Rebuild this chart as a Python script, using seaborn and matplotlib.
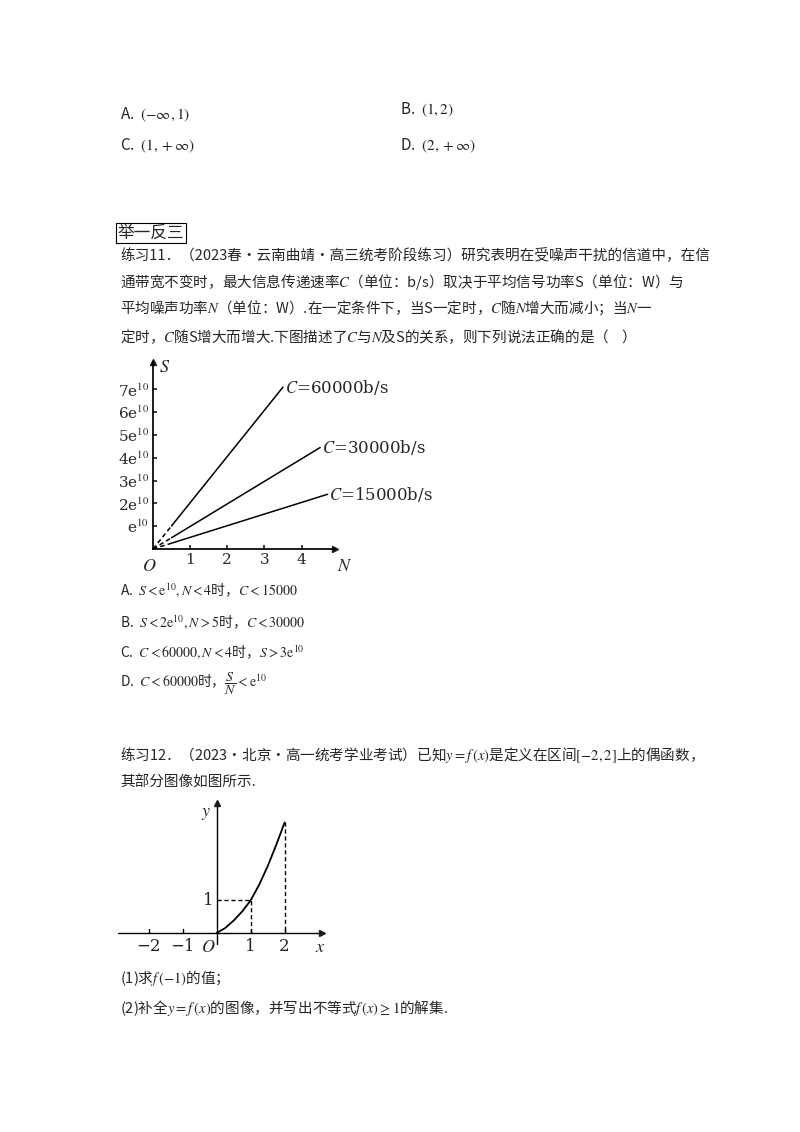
import matplotlib
matplotlib.use("Agg")
import matplotlib.pyplot as plt
import numpy as np
import pandas as pd
import seaborn as sns

sns.set_theme(style="white")
plt.rcParams["font.family"] = ["Noto Sans CJK SC", "DejaVu Sans"]
plt.rcParams["mathtext.fontset"] = "stix"

W, H = 800, 1132

# ---- data: graph 1 (S vs N for three capacities) ----
capacities = ["C=60000b/s", "C=30000b/s", "C=15000b/s"]
n_end = [3.5, 4.5, 4.7]
s_end = [7.1, 4.45, 2.4]
n_dash = [0.5, 0.5, 0.5]
s_ticks = [1, 2, 3, 4, 5, 6, 7]
s_tick_labels = ["e$^{10}$", "2e$^{10}$", "3e$^{10}$", "4e$^{10}$", "5e$^{10}$", "6e$^{10}$", "7e$^{10}$"]
n_ticks = [1, 2, 3, 4]

# ---- data: graph 2 (f(x) on [0,2]) ----
fx_x = [0.0, 0.25, 0.5, 0.75, 1.0, 1.25, 1.5, 1.75, 2.0]
fx_y = [0.0, 0.15, 0.38, 0.66, 1.0, 1.48, 2.05, 2.7, 3.4]
x_ticks = [-2, -1, 1, 2]

fig = plt.figure(figsize=(W / 100, H / 100), dpi=100)


def txt(x, y, s, size=11, **kw):
    fig.text(x / W, 1 - y / H, s, fontsize=size, va="center", ha="left", **kw)


def axes_px(left, top, right, bottom):
    return fig.add_axes([left / W, 1 - bottom / H, (right - left) / W, (bottom - top) / H])


# ---- top options ----
txt(120, 115, "A.  $(-\\infty,1)$")
txt(400, 110, "B.  $(1,2)$")
txt(120, 146, "C.  $(1,+\\infty)$")
txt(400, 146, "D.  $(2,+\\infty)$")

fig.text(118 / W, 1 - 233 / H, "举一反三", fontsize=12, va="center",
         bbox=dict(boxstyle="square,pad=0.1", fc="white", ec="black", lw=0.8))
txt(120, 255, "练习11．（2023春·云南曲靖·高三统考阶段练习）研究表明在受噪声干扰的信道中，在信", 10.5)
txt(120, 282, "通带宽不变时，最大信息传递速率$C$（单位：b/s）取决于平均信号功率S（单位：W）与", 10.5)
txt(120, 308, "平均噪声功率$N$（单位：W）.在一定条件下，当S一定时，$C$随$N$增大而减小；当$N$一", 10.5)
txt(120, 337, "定时，$C$随S增大而增大.下图描述了$C$与$N$及S的关系，则下列说法正确的是（    ）", 10.5)

# ---- graph 1 ----
ax1 = axes_px(153, 362, 335, 549)
ax1.set_xlim(0, 4.9)
ax1.set_ylim(0, 8.2)
for n1, s1, nd, lab in zip(n_end, s_end, n_dash, capacities):
    k = s1 / n1
    sns.lineplot(x=[nd, n1], y=[k * nd, s1], ax=ax1, color="black", lw=1.1)
    ax1.plot([0, nd], [0, k * nd], color="black", lw=1.1, ls=(0, (3, 2)))
    ax1.text(n1 + 0.05, s1, "$C$=" + lab[2:], fontsize=12, va="center", family="DejaVu Serif")
for sp in ["top", "right"]:
    ax1.spines[sp].set_visible(False)
for sp in ["left", "bottom"]:
    ax1.spines[sp].set_color("black")
ax1.set_xticks(n_ticks)
ax1.set_yticks(s_ticks)
ax1.set_yticklabels(s_tick_labels, fontsize=11, family="DejaVu Serif")
ax1.set_xticklabels([str(t) for t in n_ticks], fontsize=11, family="DejaVu Serif")
ax1.tick_params(direction="in", length=3, pad=3, left=True, bottom=True)
ax1.plot(1, 0, ">k", transform=ax1.transAxes, clip_on=False, ms=5)
ax1.plot(0, 1, "^k", transform=ax1.transAxes, clip_on=False, ms=5)
ax1.text(-0.1, -0.35, "$O$", fontsize=13, ha="center", va="top")
ax1.text(4.95, -0.35, "$N$", fontsize=13, ha="left", va="top")
ax1.text(0.15, 8.0, "$S$", fontsize=13, ha="left", va="center")

# ---- answers for 练习11 ----
txt(120, 590, "A.  $S<\\mathrm{e}^{10},N<4$时，$C<15000$", 10)
txt(120, 622, "B.  $S<2\\mathrm{e}^{10},N>5$时，$C<30000$", 10)
txt(120, 652, "C.  $C<60000,N<4$时，$S>3\\mathrm{e}^{10}$", 10)
txt(120, 684, "D.  $C<60000$时，$\\dfrac{S}{N}<\\mathrm{e}^{10}$", 10)

# ---- 练习12 ----
txt(120, 755, "练习12．（2023·北京·高一统考学业考试）已知$y=f\\,(x)$是定义在区间$[-2,2]$上的偶函数，", 10.5)
txt(120, 783, "其部分图像如图所示.", 10.5)

ax2 = axes_px(118, 803, 322, 945)
ax2.set_xlim(-2.9, 3.1)
ax2.set_ylim(-0.37, 4.0)
df = pd.DataFrame({"x": fx_x, "y": fx_y})
sns.lineplot(data=df, x="x", y="y", ax=ax2, color="black", lw=1.3)
ax2.plot([0, 1, 1], [1, 1, 0], color="black", lw=1, ls=(0, (3, 2)))
ax2.plot([2, 2], [fx_y[-1], 0], color="black", lw=1, ls=(0, (3, 2)))
ax2.axhline(0, color="black", lw=1)
ax2.axvline(0, color="black", lw=1)
for sp in ax2.spines.values():
    sp.set_visible(False)
ax2.set_xticks([])
ax2.set_yticks([])
ax2.set_xlabel("")
ax2.set_ylabel("")
for t in x_ticks:
    ax2.plot([t, t], [0, 0.12], color="black", lw=1)
    ax2.text(t, -0.15, str(t).replace("-", "−"), fontsize=12, ha="center", va="top", family="DejaVu Serif")
ax2.text(-0.25, -0.15, "$O$", fontsize=13, ha="center", va="top")
ax2.text(-0.25, 1.0, "1", fontsize=12, ha="center", va="center", family="DejaVu Serif")
ax2.text(3.05, -0.15, "$x$", fontsize=13, ha="center", va="top")
ax2.text(-0.3, 3.7, "$y$", fontsize=13, ha="center", va="center")
ax2.plot(3.1, 0, ">k", ms=5, clip_on=False)
ax2.plot(0, 4.0, "^k", ms=5, clip_on=False)

txt(120, 978, "(1)求$f\\,(-1)$的值；", 10.5)
txt(120, 1008, "(2)补全$y=f\\,(x)$的图像，并写出不等式$f\\,(x)\\geq 1$的解集.", 10.5)

fig.savefig("out.png", dpi=100, facecolor="white")
